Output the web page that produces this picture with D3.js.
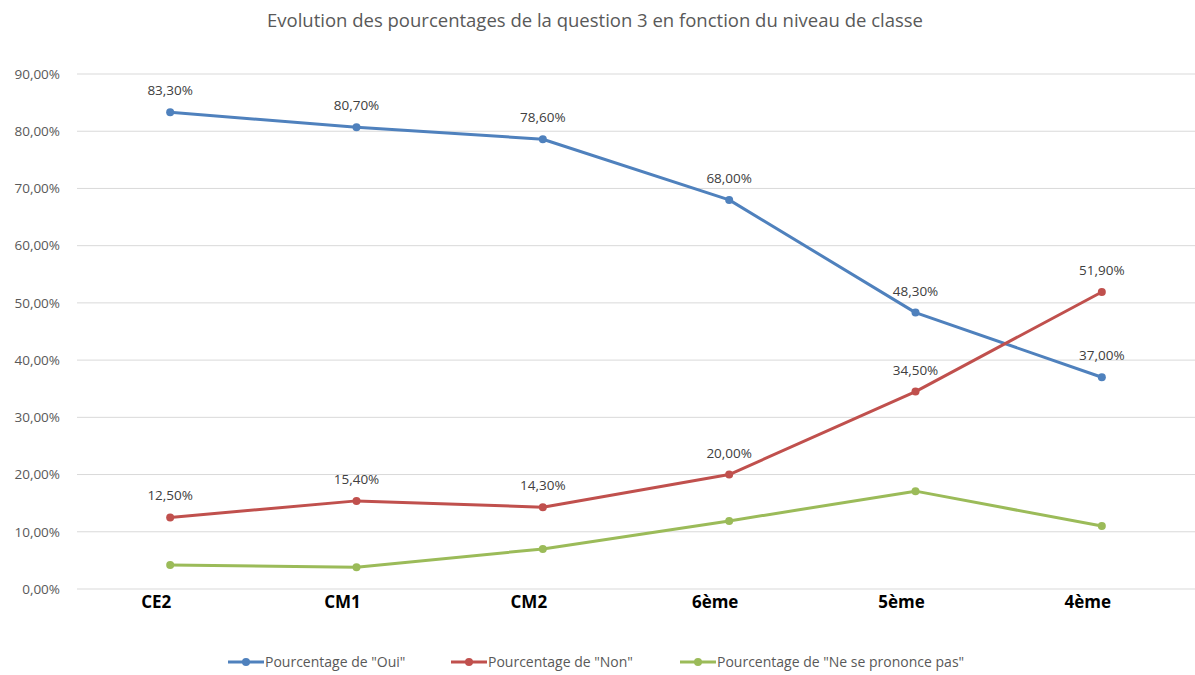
<!DOCTYPE html>
<html>
<head>
<meta charset="utf-8">
<script src="https://cdn.jsdelivr.net/npm/d3@7/dist/d3.min.js"></script>
<style>
  body { margin: 0; background: #fff; }
  svg { font-family: "Open Sans", "Liberation Sans", sans-serif; }
</style>
</head>
<body>
<svg id="main-svg" width="1195" height="675"></svg>
<script>
var categories = ["CE2", "CM1", "CM2", "6ème", "5ème", "4ème"];
var oui = [83.3, 80.7, 78.6, 68.0, 48.3, 37.0];
var non = [12.5, 15.4, 14.3, 20.0, 34.5, 51.9];
var nsp = [4.2, 3.8, 7.0, 11.9, 17.1, 11.0];
var yTicks = [0, 10, 20, 30, 40, 50, 60, 70, 80, 90];

var series = [
  { name: 'Pourcentage de "Oui"', values: oui, color: "#4F81BD", labels: true },
  { name: 'Pourcentage de "Non"', values: non, color: "#C0504D", labels: true },
  { name: 'Pourcentage de "Ne se prononce pas"', values: nsp, color: "#9BBB59", labels: false }
];

var svg = d3.select("#main-svg");
var plotLeft = 77, plotRight = 1195, plotTop = 74, plotBottom = 589;

var x = d3.scaleBand().domain(categories).range([plotLeft, plotRight]);
var y = d3.scaleLinear().domain([0, 90]).range([plotBottom, plotTop]);

function fmt(v) { return v.toFixed(2).replace(".", ",") + "%"; }
function cx(d, i) { return x(categories[i]) + x.bandwidth() / 2; }

svg.append("text")
   .attr("x", 595).attr("y", 27)
   .attr("text-anchor", "middle")
   .style("font-size", "18.5px").style("fill", "#595959")
   .text("Evolution des pourcentages de la question 3 en fonction du niveau de classe");

// grid
svg.append("g")
   .selectAll("line")
   .data(yTicks)
   .enter().append("line")
   .attr("x1", plotLeft).attr("x2", plotRight)
   .attr("y1", function(d) { return y(d); })
   .attr("y2", function(d) { return y(d); })
   .style("stroke", "#d9d9d9").style("stroke-width", 1);

// y axis labels
var yAxis = svg.append("g")
   .attr("transform", "translate(" + (plotLeft - 14) + ",0)")
   .call(d3.axisLeft(y).tickValues(yTicks).tickSize(0).tickFormat(fmt));
yAxis.select(".domain").remove();
yAxis.selectAll("text")
   .style("font-size", "13.5px").style("fill", "#595959")
   .style("font-family", '"Open Sans", sans-serif');

// x axis labels
var xAxis = svg.append("g")
   .attr("transform", "translate(-14," + (plotBottom + 4) + ")")
   .call(d3.axisBottom(x).tickSize(0));
xAxis.select(".domain").remove();
xAxis.selectAll("text")
   .style("font-size", "17px").style("font-weight", "bold").style("fill", "#000")
   .style("font-family", '"Open Sans", sans-serif');

var line = d3.line()
   .x(cx)
   .y(function(d) { return y(d); });

series.forEach(function(s) {
  svg.append("path")
     .datum(s.values)
     .attr("d", line)
     .style("fill", "none")
     .style("stroke", s.color)
     .style("stroke-width", 3)
     .style("stroke-linejoin", "round");

  svg.append("g")
     .selectAll("circle")
     .data(s.values)
     .enter().append("circle")
     .attr("cx", cx)
     .attr("cy", function(d) { return y(d); })
     .attr("r", 4)
     .style("fill", s.color);

  if (s.labels) {
    svg.append("g")
       .selectAll("text")
       .data(s.values)
       .enter().append("text")
       .attr("x", cx)
       .attr("y", function(d) { return y(d) - 17; })
       .attr("text-anchor", "middle")
       .style("font-size", "13.5px").style("fill", "#404040")
       .text(fmt);
  }
});

// legend
var legendX = [228, 451, 680];
var legend = svg.append("g")
   .selectAll("g")
   .data(series)
   .enter().append("g")
   .attr("transform", function(d, i) { return "translate(" + legendX[i] + ",662)"; });
legend.append("line")
   .attr("x1", 0).attr("x2", 36)
   .style("stroke", function(d) { return d.color; })
   .style("stroke-width", 3);
legend.append("circle")
   .attr("cx", 18).attr("r", 4)
   .style("fill", function(d) { return d.color; });
legend.append("text")
   .attr("x", 37).attr("y", 4.5)
   .style("font-size", "14px").style("fill", "#595959")
   .text(function(d) { return d.name; });
</script>
</body>
</html>
